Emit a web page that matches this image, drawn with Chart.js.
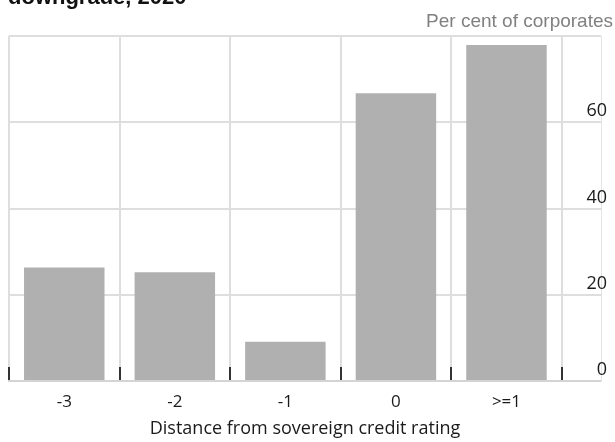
<!DOCTYPE html>
<html>
<head>
<meta charset="utf-8">
<script src="https://cdn.jsdelivr.net/npm/chart.js@4/dist/chart.umd.min.js"></script>
<style>
  html, body { margin: 0; padding: 0; background: #fff; }
  #wrap { width: 615px; height: 442px; }
</style>
</head>
<body>
<div id="wrap"><canvas id="c" width="615" height="442"></canvas></div>
<script>
const heading = 'downgrade, 2020';
const unitLabel = 'Per cent of corporates';
const xTitle = 'Distance from sovereign credit rating';
const categories = ['-3', '-2', '-1', '0', '>=1'];
const shares = [26.3, 25.2, 9.1, 66.7, 77.9];
const yTicks = [0, 20, 40, 60];

const headingPlugin = {
  id: 'heading',
  afterDraw(chart) {
    const ctx = chart.ctx;
    ctx.save();
    ctx.font = 'bold 22px "Liberation Sans", Arial, sans-serif';
    ctx.fillStyle = '#111';
    ctx.textAlign = 'left';
    ctx.textBaseline = 'alphabetic';
    ctx.fillText(heading, 8, 3.5);
    ctx.restore();
  }
};

const barData = categories.map((c, i) => ({ x: i + 0.5, y: shares[i] }));

new Chart(document.getElementById('c'), {
  type: 'bar',
  data: {
    datasets: [{
      data: barData,
      backgroundColor: '#afb0af',
      borderWidth: 0,
      barPercentage: 0.728,
      categoryPercentage: 1
    }]
  },
  options: {
    responsive: false,
    animation: false,
    devicePixelRatio: 1,
    layout: { padding: { left: 9, right: 2, top: 0, bottom: 0 } },
    plugins: {
      legend: { display: false },
      tooltip: { enabled: false },
      title: { display: false },
      subtitle: {
        display: true,
        text: unitLabel,
        align: 'end',
        color: '#808080',
        font: { family: '"Liberation Sans", Arial, sans-serif', size: 19, weight: 'normal' },
        padding: { top: 10.6, bottom: 2.6 }
      }
    },
    scales: {
      x: {
        type: 'linear',
        position: 'bottom',
        min: 0,
        max: 5.355,
        offset: false,
        afterBuildTicks(scale) {
          scale.ticks = categories.map((c, i) => ({ value: i + 0.5 }));
        },
        grid: {
          display: true,
          offset: true,
          color: '#dedede',
          lineWidth: 2,
          drawTicks: true,
          tickLength: -14,
          tickColor: '#333',
          tickWidth: 2
        },
        border: { display: true, color: '#d4d4d4', width: 2 },
        ticks: {
          padding: 25,
          color: '#1a1a1a',
          font: { family: '"Open Sans", sans-serif', size: 17 },
          autoSkip: false,
          maxRotation: 0,
          callback: (v, i) => categories[i]
        },
        title: {
          display: true,
          text: xTitle,
          color: '#1a1a1a',
          font: { family: '"Open Sans", sans-serif', size: 18 },
          padding: { top: -19, bottom: 2 }
        }
      },
      y: {
        position: 'right',
        min: 0,
        max: 80,
        afterBuildTicks(scale) {
          scale.ticks = [0, 20, 40, 60, 80].map(v => ({ value: v }));
        },
        grid: {
          color: '#dedede',
          lineWidth: 2,
          drawTicks: false
        },
        border: { display: true, color: '#e4e4e4', width: 1 },
        ticks: {
          mirror: true,
          padding: 6,
          labelOffset: -11,
          color: '#1a1a1a',
          font: { family: '"Open Sans", sans-serif', size: 18 },
          callback: (v) => yTicks.includes(v) ? String(v) : ''
        }
      }
    }
  },
  plugins: [headingPlugin]
});
</script>
</body>
</html>
